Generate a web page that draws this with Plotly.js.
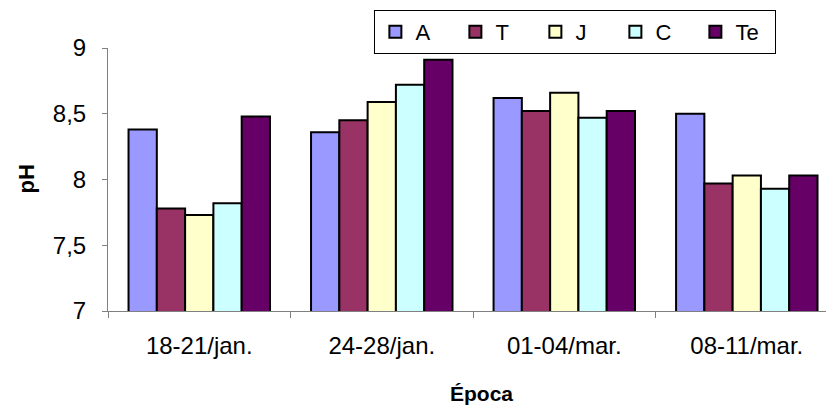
<!DOCTYPE html>
<html>
<head>
<meta charset="utf-8">
<script src="https://cdn.plot.ly/plotly-3.0.1.min.js"></script>
<style>html,body{margin:0;padding:0;background:#fff;}#chart{width:826px;height:407px;}</style>
</head>
<body>
<div id="chart"></div>
<script>
const categories = ['18-21/jan.', '24-28/jan.', '01-04/mar.', '08-11/mar.'];
const seriesNames = ['A', 'T', 'J', 'C', 'Te'];
const valuesA  = [8.38, 8.36, 8.62, 8.50];
const valuesT  = [7.78, 8.45, 8.52, 7.97];
const valuesJ  = [7.73, 8.59, 8.66, 8.03];
const valuesC  = [7.82, 8.72, 8.47, 7.93];
const valuesTe = [8.48, 8.91, 8.52, 8.03];
const colors = ['#9999FF', '#993366', '#FFFFCC', '#CCFFFF', '#660066'];

const allValues = [valuesA, valuesT, valuesJ, valuesC, valuesTe];
const FONT = 'Liberation Sans, Arial, sans-serif';
const FS = 24;

const traces = seriesNames.map((name, i) => ({
  type: 'bar',
  name: name,
  x: categories,
  y: allValues[i],
  marker: {color: colors[i], line: {color: '#000000', width: 2}}
}));

const layout = {
  width: 826, height: 407,
  margin: {l: 108, r: 0, t: 48, b: 96},
  paper_bgcolor: '#ffffff', plot_bgcolor: '#ffffff',
  separators: ', ',
  barmode: 'group',
  bargap: 0.225,
  bargroupgap: 0,
  font: {family: FONT, size: FS, color: '#000000'},
  showlegend: true,
  legend: {
    orientation: 'h',
    x: 0.371, xanchor: 'left',
    y: 1.145, yanchor: 'top',
    bordercolor: '#000000', borderwidth: 1,
    bgcolor: '#ffffff',
    font: {family: FONT, size: 22, color: '#000000'},
    traceorder: 'normal',
    entrywidth: 35
  },
  xaxis: {
    type: 'category',
    range: [-0.5, 3.434],
    showline: true, linecolor: '#808080', linewidth: 1,
    ticks: 'outside', tickson: 'boundaries', ticklen: 6, tickcolor: '#808080',
    showgrid: false, zeroline: false,
    tickfont: {family: FONT, size: FS, color: '#000000'},
    ticklabelstandoff: 13
  },
  yaxis: {
    range: [7, 9],
    dtick: 0.5, tick0: 7,
    showline: true, linecolor: '#808080', linewidth: 1,
    ticks: 'outside', ticklen: 5, tickcolor: '#808080',
    showgrid: false, zeroline: false,
    tickfont: {family: FONT, size: FS, color: '#000000'},
    ticklabelstandoff: 11
  },
  annotations: [
    {text: '<b>pH</b>', xref: 'paper', yref: 'paper', x: -0.1142, y: 0.5,
     xanchor: 'center', yanchor: 'middle', textangle: -90, showarrow: false,
     font: {family: FONT, size: 22, color: '#000000'}},
    {text: '<b>Época</b>', xref: 'paper', yref: 'paper', x: 0.5195, y: -0.3118,
     xanchor: 'center', yanchor: 'middle', showarrow: false,
     font: {family: FONT, size: 21, color: '#000000'}}
  ]
};

Plotly.newPlot('chart', traces, layout, {displayModeBar: false, staticPlot: true});
</script>
</body>
</html>
